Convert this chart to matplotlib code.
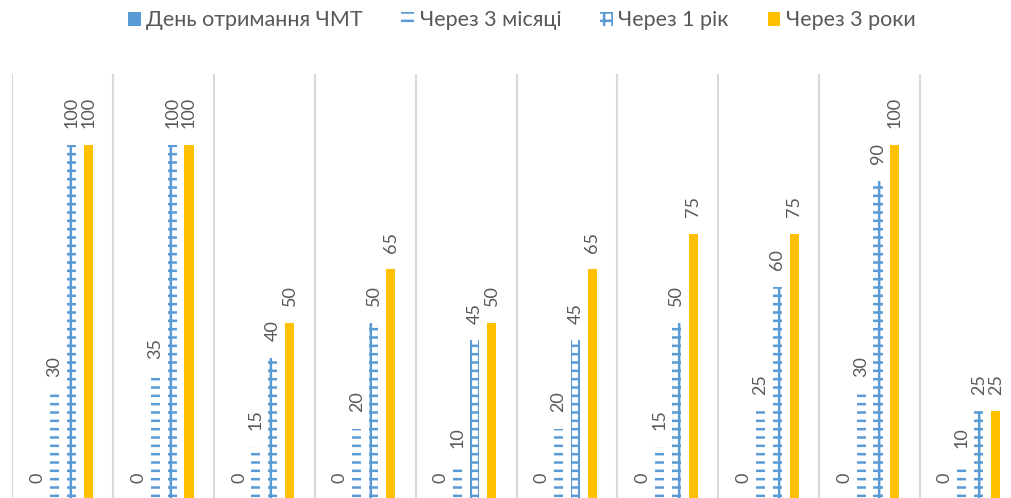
import numpy as np
import matplotlib.pyplot as plt

# дані з діаграми
series_names = ['День отримання ЧМТ', 'Через 3 місяці', 'Через 1 рік', 'Через 3 роки']
day0 = [0, 0, 0, 0, 0, 0, 0, 0, 0, 0]
month3 = [30, 35, 15, 20, 10, 20, 15, 25, 30, 10]
year1 = [100, 100, 40, 50, 45, 45, 50, 60, 90, 25]
year3 = [100, 100, 50, 65, 50, 65, 75, 75, 100, 25]

blue = '#5B9BD5'
yellow = '#FFC000'
grey = '#595959'

plt.rcParams['font.family'] = ['Lato', 'DejaVu Sans']
plt.rcParams['hatch.linewidth'] = 1.8

fig = plt.figure(figsize=(10.11, 4.98), dpi=100)
W, H = 1011, 498
ax = fig.add_axes([12.3 / W, -2 / H, 1008.5 / W, 426 / H])

x = np.arange(len(month3))
bw = 0.09
step = 0.168
offsets = [-1.5 * step, -0.5 * step, 0.5 * step, 1.5 * step]

b1 = ax.bar(x + offsets[0], day0, bw, color=blue, label=series_names[0])
b2 = ax.bar(x + offsets[1], month3, bw, facecolor='white', edgecolor=blue,
            linewidth=0, hatch='--', label=series_names[1])
b3 = ax.bar(x + offsets[2], year1, bw, facecolor='white', edgecolor=blue,
            linewidth=0, hatch='++', label=series_names[2])
b4 = ax.bar(x + offsets[3], year3, bw, color=yellow, label=series_names[3])

for bars in (b1, b2, b3, b4):
    ax.bar_label(bars, padding=12, rotation=90, color=grey, fontsize=13)

ax.set_xlim(-0.5, len(month3) - 0.5)
ax.set_ylim(0, 120)
for i in range(len(month3)):
    ax.axvline(i - 0.5, color='#D9D9D9', lw=1.5, zorder=0)
ax.set_xticks([])
ax.set_yticks([])
for s in ax.spines.values():
    s.set_visible(False)

fig.legend(handles=[b1, b2, b3, b4], loc='upper center', bbox_to_anchor=(0.516, 1.018),
           ncol=4, frameon=False, fontsize=15.5, labelcolor=grey,
           handlelength=0.6, handleheight=0.6, handletextpad=0.25,
           columnspacing=1.8)

fig.savefig('out.png', dpi=100)
